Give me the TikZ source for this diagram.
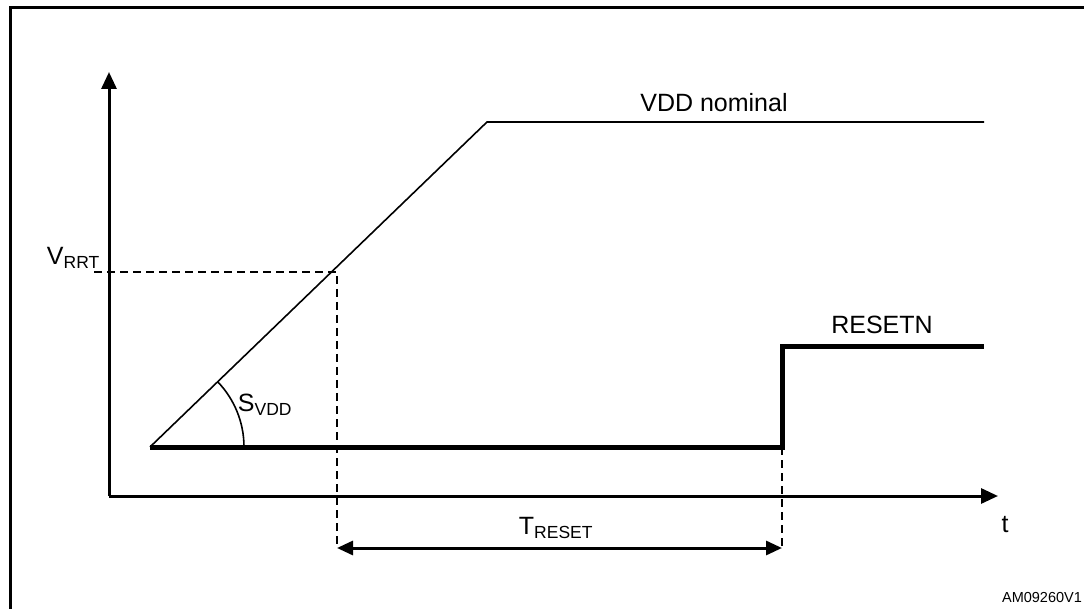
\documentclass[tikz,border=0pt]{standalone}
\usepackage{fontspec}
\setmainfont{Liberation Sans}
\usetikzlibrary{arrows.meta}
\begin{document}
\begin{tikzpicture}[x=1pt,y=-1pt,
  axisline/.style={line width=3pt,-{Triangle[length=17pt,width=15pt]}},
  ramp/.style={line width=1.6pt},
  signal/.style={line width=5pt},
  guide/.style={line width=2.5pt,dash pattern=on 8pt off 5pt},
  dim/.style={line width=3pt,{Triangle[length=16pt,width=14pt]}-{Triangle[length=16pt,width=14pt]}},
  lbl/.style={font=\fontsize{25}{28}\selectfont,inner sep=0pt},
  small/.style={font=\fontsize{14.5}{16}\selectfont,inner sep=0pt}]
\useasboundingbox (0,0) rectangle (1084,609);
% frame
\coordinate (fbl) at (10,609);
\coordinate (ftl) at (10,8);
\coordinate (ftr) at (1084,8);
\draw[line width=3pt] (fbl) -- (ftl) -- (ftr);
% axes
\coordinate (o) at (109,496);
\coordinate (ytip) at (109,72);
\coordinate (xtip) at (998,496);
\draw[axisline] (o) -- (ytip);
\draw[axisline] (o) -- (xtip);
% VDD curve
\coordinate (s) at (150,447);
\coordinate (knee) at (487,122);
\coordinate (vend) at (984,122);
\draw[ramp,line join=miter] (s) -- (knee) -- (vend);
% RESETN
\coordinate (rstep) at (782,447);
\coordinate (rhigh) at (782,347);
\coordinate (rend) at (984,347);
\draw[signal,line join=miter] (s) -- (rstep) -- (rhigh) -- (rend);
% guides
\coordinate (vl) at (94,272);
\coordinate (vp) at (337,272);
\coordinate (vb) at (337,548);
\coordinate (rb) at (782,548);
\draw[guide] (vl) -- (vp) -- (vb);
\draw[guide] (rstep) -- (rb);
% T_RESET dimension
\draw[dim] (vb) -- (rb);
% slope arc
\draw[ramp] (244,447) arc[start angle=0,end angle=-43.9,radius=94];
% labels
\node[lbl] (vddn) at (714,103) {VDD nominal};
\node[lbl,anchor=east] (vrrt) at (100,258) {V\textsubscript{RRT}};
\node[lbl] (svdd) at (265,405) {S\textsubscript{VDD}};
\node[lbl] (rst) at (882,325) {RESETN};
\node[lbl] (treset) at (556,528) {T\textsubscript{RESET}};
\node[lbl] (tlab) at (1005,525) {t};
\node[small] (code) at (1042,598) {AM09260V1};
\end{tikzpicture}
\end{document}
